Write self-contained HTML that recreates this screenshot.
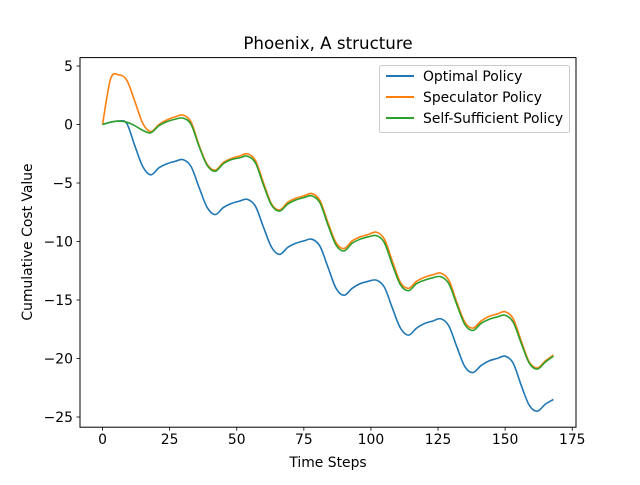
<!DOCTYPE html>
<html><head><meta charset="utf-8"><style>
body{margin:0;background:#fff;}
svg text{font-family:"DejaVu Sans","Liberation Sans",sans-serif;fill:#000;}
</style></head><body>
<svg id="chart" width="640" height="480" xmlns="http://www.w3.org/2000/svg">
<rect width="640" height="480" fill="#fff"/>
<text x="328" y="49" font-size="16.7" text-anchor="middle">Phoenix, A structure</text>
<g id="plot"></g>
<rect x="80" y="57.6" width="496" height="369.6" fill="none" stroke="#000" stroke-width="1"/>
<text x="328" y="467" font-size="13.9" text-anchor="middle">Time Steps</text>
<text transform="translate(32,242) rotate(-90)" font-size="13.9" text-anchor="middle">Cumulative Cost Value</text>
<g>
<rect x="379.5" y="65.5" width="190" height="67" fill="#fff" stroke="#ccc" rx="2"/>
<line x1="386" y1="76" x2="414" y2="76" stroke="#1f77b4" stroke-width="2"/>
<text x="423" y="81" font-size="13.9">Optimal Policy</text>
<line x1="386" y1="97" x2="414" y2="97" stroke="#ff7f0e" stroke-width="2"/>
<text x="423" y="102" font-size="13.9">Speculator Policy</text>
<line x1="386" y1="118" x2="414" y2="118" stroke="#2ca02c" stroke-width="2"/>
<text x="423" y="123" font-size="13.9">Self-Sufficient Policy</text>
</g>
</svg>
<script>
const steps = [0,3,6,9,12,15,18,21,24,27,30,33,36,39,42,45,48,51,54,57,60,63,66,69,72,75,78,81,84,87,90,93,96,99,102,105,108,111,114,117,120,123,126,129,132,135,138,141,144,147,150,153,156,159,162,165,168];
const optimal = [0,0.2,0.3,0.1,-1.8,-3.6,-4.3,-3.7,-3.35,-3.15,-3.0,-3.6,-5.4,-7.1,-7.7,-7.1,-6.75,-6.55,-6.4,-7.0,-8.8,-10.5,-11.1,-10.5,-10.15,-9.95,-9.8,-10.4,-12.2,-14.0,-14.6,-14.0,-13.6,-13.4,-13.3,-13.9,-15.7,-17.4,-18.0,-17.4,-17.0,-16.8,-16.6,-17.2,-19.0,-20.7,-21.2,-20.6,-20.2,-20.0,-19.8,-20.4,-22.3,-24.0,-24.5,-23.9,-23.5];
const speculator = [0,3.9,4.25,3.8,2.0,0.1,-0.6,0.0,0.4,0.65,0.8,0.2,-1.8,-3.4,-3.9,-3.25,-2.9,-2.7,-2.5,-3.1,-5.0,-6.8,-7.3,-6.65,-6.3,-6.1,-5.9,-6.5,-8.4,-10.1,-10.6,-9.95,-9.6,-9.4,-9.2,-9.8,-11.7,-13.5,-14.0,-13.4,-13.05,-12.85,-12.7,-13.3,-15.2,-16.9,-17.4,-16.8,-16.4,-16.2,-16.0,-16.6,-18.5,-20.3,-20.8,-20.2,-19.7];
const selfSufficient = [0,0.2,0.3,0.2,-0.1,-0.5,-0.7,-0.1,0.25,0.45,0.55,0.0,-1.9,-3.5,-4.0,-3.35,-3.0,-2.85,-2.7,-3.3,-5.2,-6.9,-7.4,-6.8,-6.45,-6.25,-6.1,-6.7,-8.6,-10.3,-10.8,-10.15,-9.8,-9.6,-9.5,-10.1,-12.0,-13.7,-14.2,-13.6,-13.3,-13.1,-13.0,-13.6,-15.4,-17.1,-17.6,-17.0,-16.65,-16.45,-16.3,-16.9,-18.7,-20.4,-20.9,-20.3,-19.8];
const xTicks = [0,25,50,75,100,125,150,175];
const yTicks = [5,0,-5,-10,-15,-20,-25];

const L=80,R=576,T=57.6,B=427.2;
const xMin=-8.4,xMax=176.4,yMin=-25.87,yMax=5.72;
const sx=v=>L+(v-xMin)/(xMax-xMin)*(R-L);
const sy=v=>B-(v-yMin)/(yMax-yMin)*(B-T);
const NS="http://www.w3.org/2000/svg";
const plot=document.getElementById('plot');
function mk(tag,attrs){const e=document.createElementNS(NS,tag);for(const k in attrs)e.setAttribute(k,attrs[k]);plot.appendChild(e);return e;}

xTicks.forEach(t=>{
  const l=mk('line',{x1:sx(t),x2:sx(t),y1:B,y2:B+3.5,stroke:'#000','stroke-width':0.8});
  
  
  const tx=mk('text',{x:sx(t),y:B+17,'font-size':13.9,'text-anchor':'middle'});
  tx.textContent=t;
  
  
});
yTicks.forEach(t=>{
  const l=mk('line',{x1:L-3.5,x2:L,y1:sy(t),y2:sy(t),stroke:'#000','stroke-width':0.8});
  
  
  const tx=mk('text',{x:L-7,y:sy(t)+5,'font-size':13.9,'text-anchor':'end'});
  tx.textContent=(t<0?'\u2212'+(-t):t);
  
  
});

function pathFor(vals){
  const p=steps.map((s,i)=>[sx(s),sy(vals[i])]);
  let d='M'+p[0][0]+','+p[0][1];
  for(let i=0;i<p.length-1;i++){
    const p0=p[Math.max(0,i-1)],p1=p[i],p2=p[i+1],p3=p[Math.min(p.length-1,i+2)];
    const c1=[p1[0]+(p2[0]-p0[0])/6,p1[1]+(p2[1]-p0[1])/6];
    const c2=[p2[0]-(p3[0]-p1[0])/6,p2[1]-(p3[1]-p1[1])/6];
    d+=' C'+c1+' '+c2+' '+p2;
  }
  return d;
}
const series=[[optimal,'#1f77b4','line-optimal'],[speculator,'#ff7f0e','line-speculator'],[selfSufficient,'#2ca02c','line-self-sufficient']];
series.forEach(([v,c,n])=>{
  const e=mk('path',{d:pathFor(v),fill:'none',stroke:c,'stroke-width':1.6,'stroke-linejoin':'round'});
  
  
});
</script>
</body></html>
